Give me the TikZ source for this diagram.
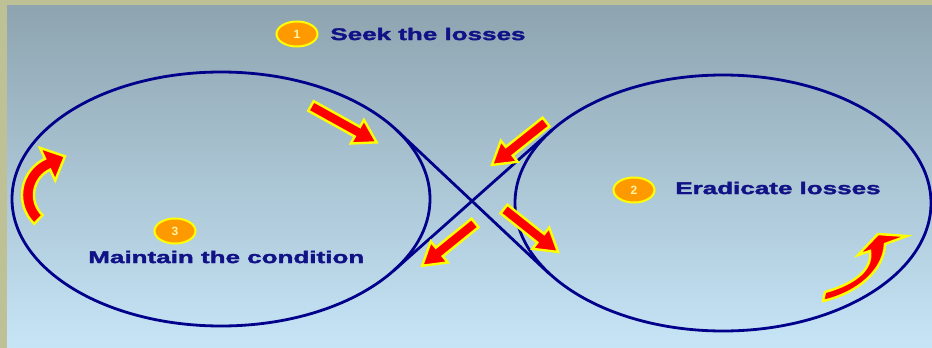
\documentclass[tikz,border=0pt]{standalone}
\usepackage{fontspec}
\setmainfont{Liberation Sans}
\newfontfamily\lblfont[FakeBold=1.6]{Liberation Sans Bold}
\usetikzlibrary{shapes.geometric,calc}
\definecolor{navy}{RGB}{0,0,139}
\definecolor{txtnavy}{RGB}{18,18,135}
\definecolor{orng}{RGB}{255,153,0}
\definecolor{ylw}{RGB}{255,255,0}
\definecolor{rd}{RGB}{255,0,0}
\definecolor{bgtop}{RGB}{142,164,176}
\definecolor{bgbot}{RGB}{198,229,247}
\definecolor{khaki}{RGB}{190,192,150}
\definecolor{cream}{RGB}{255,245,170}
\tikzset{
  arrlen/.store in=\arrlen, arrlen=72,
  redarrow/.style={fill=rd, draw=ylw, line width=2.4pt, line join=miter},
  barrow/.pic={
    \path[redarrow] (0,-5.5) -- (\arrlen-22,-5.5) -- (\arrlen-22,-13.5) -- (\arrlen,0)
      -- (\arrlen-22,13.5) -- (\arrlen-22,5.5) -- (0,5.5) -- cycle;
  },
  loop/.style={ellipse, draw=navy, line width=2.8pt, inner sep=0pt},
  tangent/.style={draw=navy, line width=2.8pt},
  lbl/.style={text=txtnavy, font=\lblfont\fontsize{17}{20}\selectfont, xscale=1.53, anchor=west, inner sep=0pt},
  numc/.style={ellipse, fill=orng, draw=ylw, line width=2pt, minimum width=41pt, minimum height=25pt, inner sep=0pt,
    text=cream, font=\bfseries\fontsize{12}{12}\selectfont}
}
\begin{document}
\begin{tikzpicture}[x=1pt,y=-1pt]
\useasboundingbox (0,0) rectangle (932,348);
\fill[khaki] (0,0) rectangle (932,348);
\shade[top color=bgtop, bottom color=bgbot] (7,5) rectangle (932,348);

% loops
\node[loop, minimum width=418pt, minimum height=254pt] (L) at (221,199) {};
\node[loop, minimum width=416pt, minimum height=256pt] (R) at (723,203) {};
\coordinate (la) at (396.5,130.1);
\coordinate (lb) at (393.6,270.7);
\coordinate (ra) at (552,130);
\coordinate (rb) at (549,273.5);
\draw[tangent] (la) -- (rb);
\draw[tangent] (lb) -- (ra);

% labels
\node[numc] (n1) at (297,34) {1};
\node[lbl] (t1) at (330,34) {Seek the losses};
\node[numc] (n2) at (634,190) {2};
\node[lbl] (t2) at (675,188) {Eradicate losses};
\node[numc] (n3) at (175,231) {3};
\node[lbl] (t3) at (88,257) {Maintain the condition};

% straight arrows
\pic (a1) [rotate=-29, arrlen=75] at (311,106) {barrow};
\pic (a2) [rotate=-141.5, arrlen=69] at (546,122) {barrow};
\pic (a3) [rotate=-141, arrlen=68] at (475,223) {barrow};
\pic (a4) [rotate=-38.5, arrlen=69] at (504,209) {barrow};

% curved arrow left
\coordinate (cl) at (62,195);
\path[redarrow]
  plot[domain=134:245, samples=30] ({62+40*cos(\x)},{195+40*sin(\x)})
  -- ($(cl)+(245:52)$)
  -- ($(cl)+(245:34)+(-24.5:19)$)
  -- ($(cl)+(245:16)$)
  -- plot[domain=245:134, samples=30] ({62+28*cos(\x)},{195+28*sin(\x)})
  -- cycle;

% curved arrow right
\path[redarrow]
  (825,292) .. controls (850,285) and (873,272) .. (870,251)
  -- (858,255) -- (878,234) -- (907,236) -- (885,244)
  .. controls (884,270) and (858,293) .. (823,301) -- cycle;
\end{tikzpicture}
\end{document}
